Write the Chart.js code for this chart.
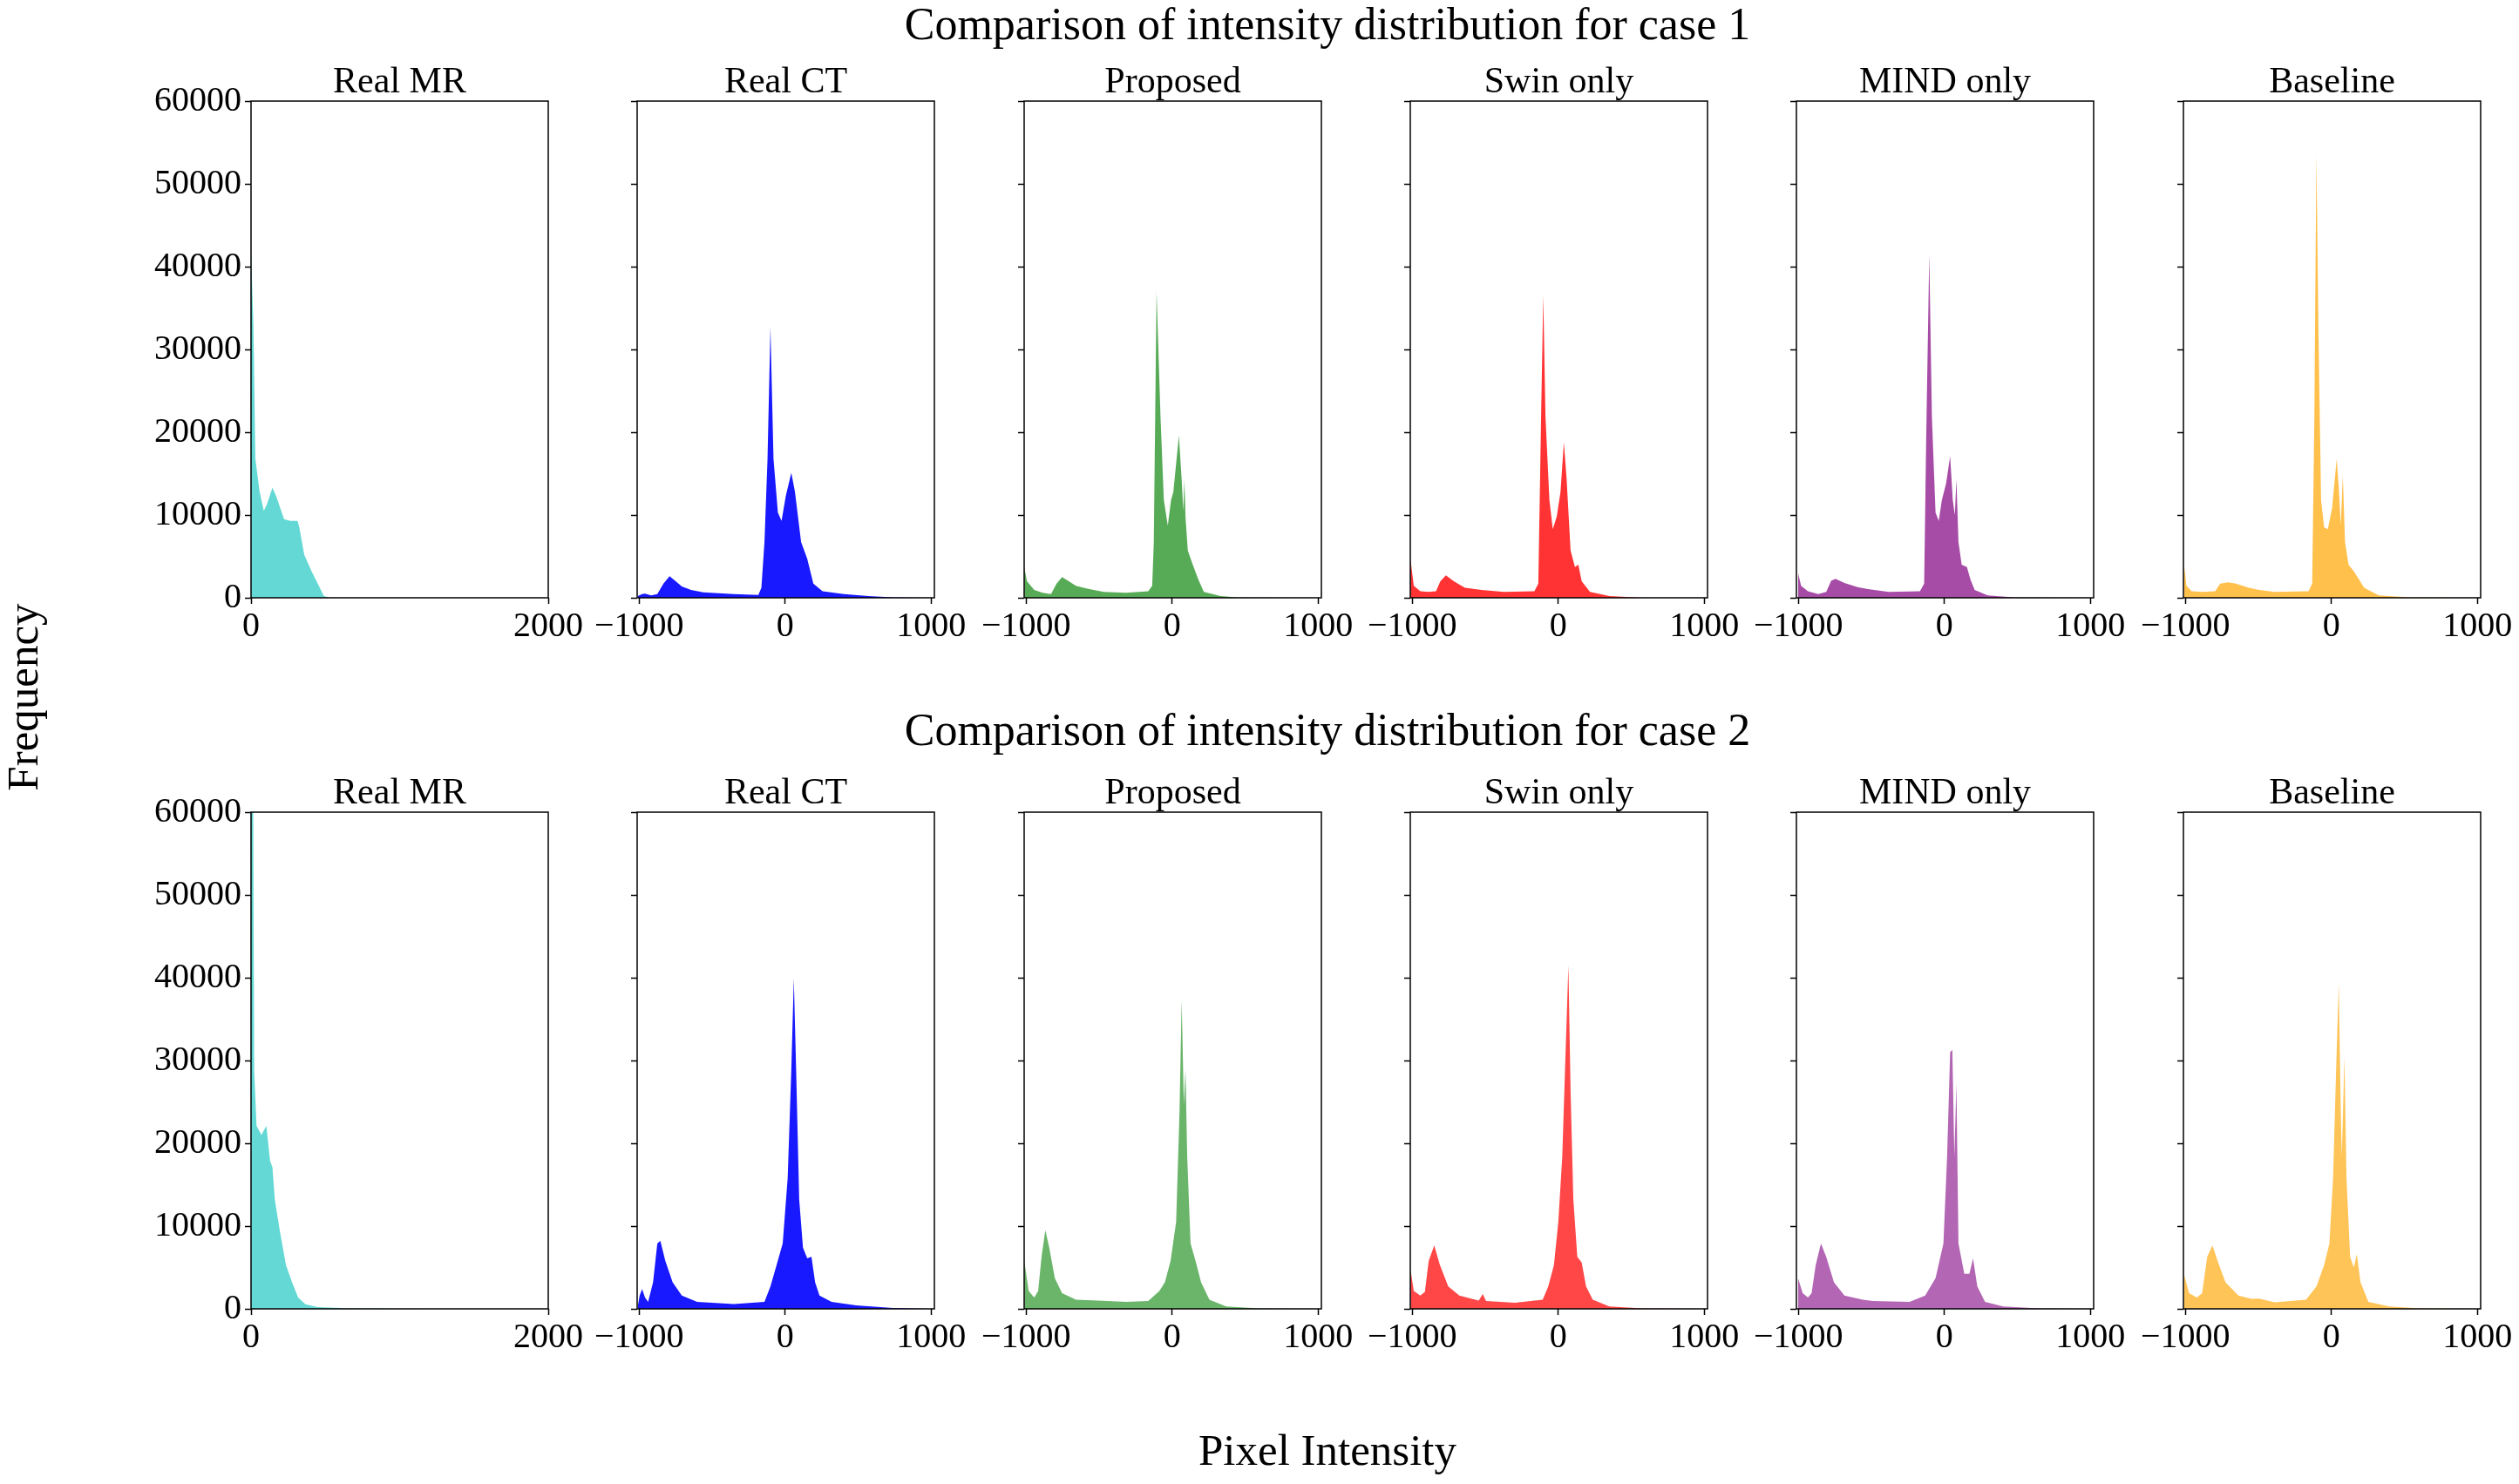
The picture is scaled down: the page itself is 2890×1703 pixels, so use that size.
<!DOCTYPE html>
<html>
<head>
<meta charset="utf-8">
<script src="https://cdn.jsdelivr.net/npm/chart.js@4.4.1/dist/chart.umd.min.js"></script>
<style>
body { margin: 0; background: #fff; width: 2890px; height: 1703px; position: relative; overflow: hidden;
       font-family: "Liberation Serif", "Times New Roman", serif; }
.txt { position: absolute; color: #000; white-space: nowrap; line-height: 1; }
.panel { position: absolute; }
</style>
</head>
<body>
<div class="txt" id="sup1" style="font-size:52px; left:1523px; top:1.5px; transform:translateX(-50%);"></div>
<div class="txt" id="sup2" style="font-size:52px; left:1523px; top:811.5px; transform:translateX(-50%);"></div>
<div class="txt" id="ylab" style="font-size:51px; left:25.8px; top:800px; transform:translate(-50%,-50%) rotate(-90deg);"></div>
<div class="txt" id="xlab" style="font-size:51px; left:1523px; top:1639px; transform:translateX(-50%);"></div>

<script>
const FONT = '"Liberation Serif", "Times New Roman", serif';

const caseTitles = ["Comparison of intensity distribution for case 1", "Comparison of intensity distribution for case 2"];
const panelTitles = ["Real MR", "Real CT", "Proposed", "Swin only", "MIND only", "Baseline"];
const xAxisTitle = "Pixel Intensity";
const yAxisTitle = "Frequency";

const yTicks = [0, 10000, 20000, 30000, 40000, 50000, 60000];
const mrTicks = [0, 2000];
const ctTicks = [-1000, 0, 1000];
const mrRange = [0, 2000];
const ctRange = [-1014, 1022];

// ---- case 1 ----
const mr1X = [0, 16, 29, 58, 86, 107, 144, 169, 222, 263, 313, 325, 358, 407, 449, 490, 531, 2000];
const mr1Y = [42000, 33000, 16800, 12800, 10500, 11300, 13300, 12300, 9500, 9300, 9300, 8500, 5200, 3200, 1700, 200, 0, 0];

const ct1X = [-1010, -980, -960, -918, -876, -834, -792, -750, -708, -645, -561, -352, -184, -163, -142, -121, -101, -80, -50, -25, 4, 42, 67, 109, 151, 193, 256, 402, 570, 737, 990];
const ct1Y = [200, 450, 500, 300, 450, 1700, 2600, 2000, 1360, 960, 650, 450, 350, 1200, 6750, 16800, 32700, 16800, 10300, 9300, 12300, 15100, 12800, 6750, 4700, 1700, 800, 450, 200, 50, 0];

const prop1X = [-1013, -995, -945, -888, -830, -792, -754, -716, -659, -583, -469, -316, -164, -137, -126, -107, -80, -57, -30, -8, 8, 46, 65, 76, 84, 91, 107, 141, 179, 217, 331, 446, 980];
const prop1Y = [3700, 2000, 960, 600, 450, 1700, 2500, 2070, 1460, 1100, 700, 600, 800, 1460, 6750, 37000, 21900, 11800, 8700, 11800, 12800, 19600, 14300, 10500, 14300, 9800, 5700, 4000, 2200, 700, 200, 50, 0];

const swin1X = [-1013, -990, -945, -888, -838, -808, -770, -716, -640, -526, -373, -164, -137, -118, -103, -88, -61, -38, -11, 15, 38, 57, 84, 114, 137, 160, 217, 350, 579];
const swin1Y = [4700, 1460, 800, 700, 800, 2000, 2700, 2000, 1200, 960, 700, 800, 1700, 21900, 36500, 21900, 11800, 8300, 9800, 12800, 18800, 14300, 5700, 3700, 4000, 2000, 700, 200, 0];

const mind1X = [-1003, -982, -935, -864, -810, -775, -746, -685, -596, -525, -382, -168, -139, -125, -104, -86, -61, -39, -18, 11, 39, 57, 71, 82, 96, 118, 154, 178, 207, 296, 475, 975];
const mind1Y = [3000, 1460, 800, 450, 700, 2070, 2300, 1800, 1300, 1060, 700, 800, 1700, 19350, 41500, 21900, 10300, 9300, 11800, 13800, 17100, 11800, 10000, 14300, 6750, 4000, 3700, 2200, 960, 300, 50, 0];

const base1X = [-1011, -993, -958, -886, -797, -762, -708, -655, -566, -495, -388, -157, -132, -117, -103, -89, -71, -50, -25, 4, 36, 50, 64, 78, 93, 117, 153, 189, 224, 324, 538, 965];
const base1Y = [4200, 1460, 800, 700, 800, 1700, 1860, 1700, 1200, 960, 700, 800, 1700, 21900, 53600, 32000, 11800, 8500, 8300, 10800, 16800, 13300, 8800, 14800, 6750, 4000, 3200, 2200, 1200, 300, 50, 0];

// ---- case 2 ----
const mr2X = [0, 12, 21, 37, 70, 103, 128, 144, 160, 193, 235, 276, 317, 366, 449, 695, 1189, 2000];
const mr2Y = [90000, 75000, 28900, 22100, 21000, 22100, 17900, 17100, 13200, 9500, 5300, 3200, 1360, 550, 200, 50, 0, 0];

const ct2X = [-1010, -997, -980, -960, -939, -905, -876, -855, -821, -771, -708, -603, -352, -142, -101, -59, -17, 17, 42, 59, 75, 96, 122, 151, 180, 205, 235, 318, 486, 737, 990];
const ct2Y = [300, 1600, 2400, 1360, 840, 3200, 7900, 8200, 5800, 3200, 1600, 840, 580, 840, 2700, 5300, 7900, 15800, 28900, 39900, 28900, 13200, 7400, 6100, 6300, 3200, 1600, 840, 420, 100, 0];

const prop2X = [-1013, -983, -945, -918, -895, -869, -842, -804, -754, -659, -507, -316, -164, -88, -50, -11, 27, 50, 65, 80, 91, 103, 126, 160, 198, 255, 370, 598, 980];
const prop2Y = [5800, 2150, 1360, 2150, 6300, 9500, 7400, 3700, 1900, 1100, 1000, 840, 950, 2150, 3200, 5800, 10500, 23700, 37300, 24700, 28900, 18400, 7900, 5800, 3200, 1100, 300, 50, 0];

const swin2X = [-1013, -990, -945, -914, -888, -850, -811, -754, -678, -545, -518, -495, -297, -107, -69, -30, 0, 27, 46, 69, 84, 103, 130, 160, 190, 236, 350, 579, 960];
const swin2Y = [4800, 2150, 1600, 2050, 5800, 7650, 5300, 2700, 1600, 1000, 1800, 950, 730, 1100, 2700, 5300, 10500, 18400, 28900, 41500, 26300, 13200, 6300, 5600, 2700, 1100, 300, 50, 0];

const mind2X = [-1003, -971, -935, -910, -882, -846, -810, -757, -685, -560, -489, -239, -132, -61, -7, 18, 39, 54, 68, 82, 96, 136, 171, 196, 225, 278, 403, 653, 975];
const mind2Y = [3700, 1900, 1360, 1900, 5300, 7900, 6300, 3200, 1600, 1100, 950, 840, 1600, 3700, 7900, 18400, 31000, 31300, 18400, 27300, 7900, 4250, 4250, 6100, 2700, 840, 300, 50, 0];

const base2X = [-1011, -975, -922, -886, -851, -815, -780, -726, -637, -548, -495, -388, -174, -103, -50, -14, 11, 32, 50, 64, 71, 89, 103, 128, 153, 174, 199, 253, 395, 609, 965];
const base2Y = [4250, 1900, 1360, 1900, 6300, 7650, 5800, 3200, 1600, 1200, 1250, 790, 1100, 2700, 5300, 7900, 15800, 28900, 39400, 23700, 18400, 30500, 15800, 6300, 5000, 6600, 3200, 840, 300, 50, 0];

const series = [
  [[mr1X, mr1Y], [ct1X, ct1Y], [prop1X, prop1Y], [swin1X, swin1Y], [mind1X, mind1Y], [base1X, base1Y]],
  [[mr2X, mr2Y], [ct2X, ct2Y], [prop2X, prop2Y], [swin2X, swin2Y], [mind2X, mind2Y], [base2X, base2Y]]
];

// styles
const fillColors = [
  ["rgba(72,209,204,0.85)", "rgba(0,0,255,0.9)", "rgba(0,128,0,0.66)", "rgba(255,0,0,0.8)", "rgba(128,0,128,0.7)", "rgba(255,165,0,0.7)"],
  ["rgba(72,209,204,0.85)", "rgba(0,0,255,0.9)", "rgba(0,128,0,0.58)", "rgba(255,0,0,0.72)", "rgba(128,0,128,0.6)", "rgba(255,165,0,0.66)"]
];
const plotLeft = [288, 731.3, 1174.6, 1617.9, 2061.2, 2504.5];
const plotTop = [116, 932];
const plotW = 341, plotH = 570;
const padL = 170, padT = 42, padR = 60, padB = 60;

document.getElementById("sup1").textContent = caseTitles[0];
document.getElementById("sup2").textContent = caseTitles[1];
document.getElementById("xlab").textContent = xAxisTitle;
document.getElementById("ylab").textContent = yAxisTitle;

const frame = {
  id: "frame",
  afterDraw(chart) {
    const a = chart.chartArea;
    const ctx = chart.ctx;
    ctx.save();
    ctx.strokeStyle = "#000";
    ctx.lineWidth = 1.5;
    ctx.strokeRect(a.left, a.top, a.right - a.left, a.bottom - a.top);
    ctx.restore();
  }
};

function fmt(v) {
  return v < 0 ? "\u2212" + Math.abs(v) : String(v);
}

for (let r = 0; r < 2; r++) {
  for (let c = 0; c < 6; c++) {
    const w = padL + plotW + padR;
    const h = padT + plotH + padB;
    const div = document.createElement("div");
    div.className = "panel";
    div.style.left = (plotLeft[c] - padL) + "px";
    div.style.top = (plotTop[r] - padT) + "px";
    div.style.width = w + "px";
    div.style.height = h + "px";
    const canvas = document.createElement("canvas");
    canvas.width = w;
    canvas.height = h;
    canvas.style.width = w + "px";
    canvas.style.height = h + "px";
    div.appendChild(canvas);
    document.body.appendChild(div);

    const xs = series[r][c][0];
    const ys = series[r][c][1];
    const isMR = c === 0;
    const xTicks = isMR ? mrTicks : ctTicks;
    const xRange = isMR ? mrRange : ctRange;

    new Chart(canvas, {
      type: "line",
      data: {
        datasets: [{
          data: xs.map((x, i) => ({ x: x, y: ys[i] })),
          fill: "origin",
          backgroundColor: fillColors[r][c],
          borderWidth: 0,
          pointRadius: 0,
          tension: 0
        }]
      },
      options: {
        responsive: false,
        animation: false,
        devicePixelRatio: 1,
        layout: { padding: { left: 0, top: 0, right: padR, bottom: 0 } },
        plugins: {
          legend: { display: false },
          tooltip: { enabled: false },
          title: {
            display: true,
            text: panelTitles[c],
            color: "#000",
            padding: 0,
            fullSize: false,
            align: "center",
            font: { family: FONT, size: 42, weight: "normal", lineHeight: 1 }
          }
        },
        scales: {
          x: {
            type: "linear",
            min: xRange[0],
            max: xRange[1],
            afterBuildTicks: s => { s.ticks = xTicks.map(v => ({ value: v })); },
            afterFit: s => { s.height = padB; },
            grid: { drawOnChartArea: false, drawTicks: true, tickLength: 7, tickColor: "#000", tickWidth: 1.5 },
            border: { display: false },
            ticks: { autoSkip: false, maxRotation: 0, color: "#000", padding: 2,
                     font: { family: FONT, size: 40 }, callback: fmt }
          },
          y: {
            min: 0,
            max: 60000,
            afterBuildTicks: s => { s.ticks = yTicks.map(v => ({ value: v })); },
            afterFit: s => { s.width = padL; },
            grid: { drawOnChartArea: false, drawTicks: true, tickLength: 7, tickColor: "#000", tickWidth: 1.5 },
            border: { display: false },
            ticks: { display: c === 0, color: "#000", padding: 4,
                     font: { family: FONT, size: 40 }, callback: fmt }
          }
        }
      },
      plugins: [frame]
    });
  }
}
</script>
</body>
</html>
